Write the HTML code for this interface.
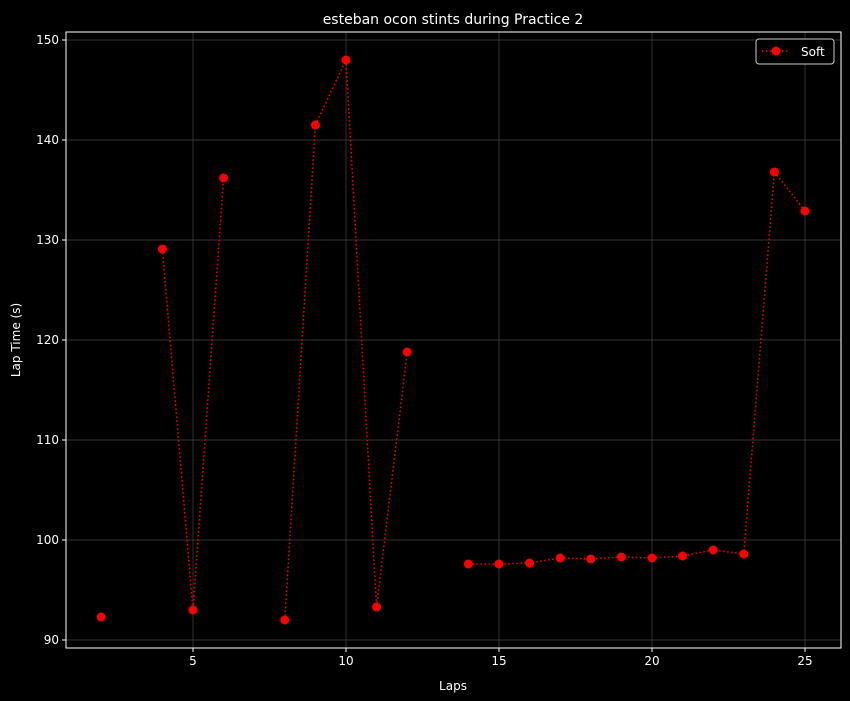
<!DOCTYPE html>
<html><head><meta charset="utf-8"><style>
body{margin:0;background:#000;}
svg{display:block;font-family:"DejaVu Sans","Liberation Sans",sans-serif;}
</style></head><body>
<svg id="chart" width="850" height="701">
<rect width="850" height="701" fill="#000"/>
<text x="453" y="24" fill="#fff" font-size="14" text-anchor="middle">esteban ocon stints during Practice 2</text>
<text x="453" y="690" fill="#fff" font-size="12" text-anchor="middle">Laps</text>
<text x="20" y="340" fill="#fff" font-size="12" text-anchor="middle" transform="rotate(-90 20 340)">Lap Time (s)</text>
<g id="grid"></g><g id="axes"></g><g id="series"></g>
<g>
<rect x="756" y="39" width="78" height="25" rx="3" fill="#000" stroke="#ccc" stroke-width="1"/>
<line x1="762" y1="51" x2="790" y2="51" stroke="#f00" stroke-width="1.5" stroke-dasharray="1.5,2.5"/>
<circle cx="776" cy="51" r="4.5" fill="#f00"/>
<text x="801" y="56" fill="#fff" font-size="12">Soft</text>
</g>
</svg>
<script>
const laps=[2,3,4,5,6,7,8,9,10,11,12,13,14,15,16,17,18,19,20,21,22,23,24,25];
const lapTimes=[92.3,null,129.1,93.0,136.2,null,92.0,141.5,148.0,93.3,118.8,null,97.6,97.6,97.7,98.2,98.1,98.3,98.2,98.4,99.0,98.6,136.8,132.9];
const xTicks=[5,10,15,20,25];
const yTicks=[90,100,110,120,130,140,150];
const L=66,R=841,T=32,B=648;
const xs=v=>193+(v-5)*30.6;
const ys=v=>640-(v-90)*10;
const NS="http://www.w3.org/2000/svg";
function mk(tag,attrs,parent){const e=document.createElementNS(NS,tag);for(const k in attrs)e.setAttribute(k,attrs[k]);parent.appendChild(e);return e;}
const grid=document.getElementById('grid'),axes=document.getElementById('axes'),ser=document.getElementById('series');
xTicks.forEach(t=>{const x=xs(t);
const g=mk('line',{x1:x,x2:x,y1:T,y2:B,stroke:'#444','stroke-width':0.7},grid);


mk('line',{x1:x,x2:x,y1:B,y2:B+4,stroke:'#fff'},axes);
const tx=mk('text',{x:x,y:B+17,fill:'#fff','font-size':12,'text-anchor':'middle'},axes);tx.textContent=t;

});
yTicks.forEach(t=>{const y=ys(t);
const g=mk('line',{x1:L,x2:R,y1:y,y2:y,stroke:'#444','stroke-width':0.7},grid);


mk('line',{x1:L-4,x2:L,y1:y,y2:y,stroke:'#fff'},axes);
const tx=mk('text',{x:L-7,y:y+4,fill:'#fff','font-size':12,'text-anchor':'end'},axes);tx.textContent=t;

});
const fr=mk('rect',{x:L,y:T,width:R-L,height:B-T,fill:'none',stroke:'#fff','stroke-width':1},axes);


let seg=[];const segs=[];
laps.forEach((l,i)=>{const v=lapTimes[i];if(v==null){if(seg.length)segs.push(seg);seg=[];}else seg.push([xs(l),ys(v)]);});
if(seg.length)segs.push(seg);
segs.forEach(s=>{if(s.length>1){const p=mk('polyline',{points:s.map(q=>q.join(',')).join(' '),fill:'none',stroke:'#f00','stroke-width':1.5,'stroke-dasharray':'1.5,2.5'},ser);

}});
laps.forEach((l,i)=>{const v=lapTimes[i];if(v==null)return;
const c=mk('circle',{cx:xs(l),cy:ys(v),r:4.5,fill:'#f00'},ser);

});
</script>
</body></html>
